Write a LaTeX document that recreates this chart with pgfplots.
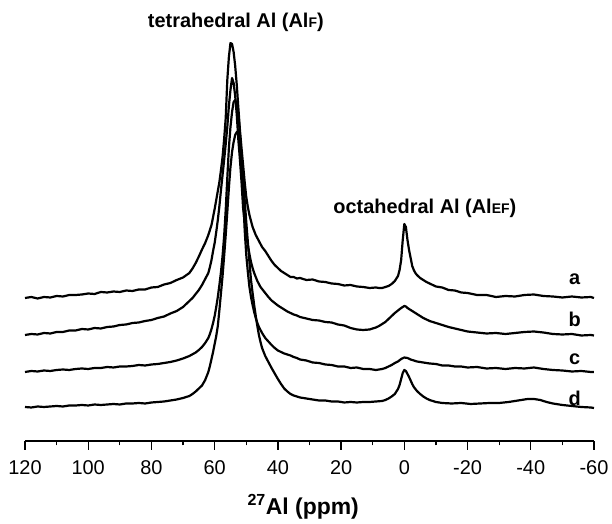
\documentclass[border=0pt]{standalone}
\usepackage{fontspec}
\setmainfont{Liberation Sans}
\usepackage{pgfplots}
\pgfplotsset{compat=1.18}
\tikzset{tr/.style={black, line width=2.2bp, line join=round}}
\begin{document}
\begin{tikzpicture}
\begin{axis}[
 scale only axis, width=569bp, height=401bp,
 xmin=-60, xmax=120, x dir=reverse, ymin=-441, ymax=-40,
 axis x line=bottom, axis y line=none,
 axis line style={-, line width=1.4bp},
 xtick={120,100,80,60,40,20,0,-20,-40,-60},
 xticklabels={120,100,80,60,40,20,0,-20,-40,-60},
 minor xtick={110,90,70,50,30,10,-10,-30,-50},
 tick align=outside, major tick length=9bp, minor tick length=4.5bp,
 every tick/.style={black, line width=1.3bp},
 xticklabel style={font=\fontsize{20}{24}\selectfont, anchor=base, yshift=-25bp},
 clip=false,
]
\path (axis cs:127.91,0) rectangle (axis cs:-65.70,-520);
% trace a
\addplot[tr] coordinates {(120,-298)(118,-297)(116,-298.5)(114,-297)(112,-297.5)(110,-296)(108,-296.5)(106,-295)(104,-295)(102,-294.5)(100,-293.5)(98,-294)(96,-292)(94,-292.5)(92,-291.5)(90,-292)(88,-290.5)(86,-291)(84,-289.5)(82,-289.5)(80,-287.5)(78,-287)(76,-284.5)(74,-283)(72,-280)(70,-277.5)(68,-273)(67,-268.5)(66,-263)(65,-256.5)(64,-249.5)(63,-243)(62,-235)(61.5,-230)(61,-225)(60.5,-217)(60,-209)(59.5,-200)(59,-191)(58.5,-182)(58,-170)(57.5,-157)(57,-139)(56.5,-118)(56,-80)(55.5,-57)(55,-43)(54.5,-44)(54,-52)(53.5,-66)(53,-85)(52.5,-108)(52,-130)(51.5,-148)(51,-165)(50.5,-182)(50,-197)(49.5,-207)(49,-215)(48.5,-221)(48,-227)(47.5,-231)(47,-235)(46.5,-238)(46,-241)(45.5,-244)(45,-247)(44,-251)(43,-256)(42,-261)(41,-265)(40,-268)(39,-271)(38,-273)(37,-275)(36,-277)(35,-277)(34,-278.5)(33,-278)(31,-280)(29,-279.5)(27,-281.5)(25,-282)(23,-283.5)(21,-284)(19,-285.5)(17,-285)(15,-286.5)(13,-287)(11,-288)(9,-287.5)(8,-288)(7,-288)(6,-287)(5,-286)(4,-284)(3,-281)(2,-276)(1.5,-270)(1,-260)(0.5,-240)(0,-224)(-0.5,-227)(-1,-240)(-1.5,-250)(-2,-258)(-2.5,-266)(-3,-270)(-3.5,-273)(-4,-275)(-5,-278)(-6,-280)(-7,-282)(-8,-283.5)(-10,-286.5)(-12,-287.5)(-14,-290)(-16,-290.5)(-18,-292.5)(-20,-293)(-23,-295)(-26,-295)(-29,-297)(-32,-296)(-35,-296.5)(-38,-295)(-41,-294.5)(-44,-296)(-47,-296.5)(-50,-297.5)(-53,-296.5)(-56,-297.5)(-59,-297)(-60,-298)};
% trace b
\addplot[tr] coordinates {(120,-335)(118,-334)(116,-334.5)(114,-333)(112,-333.5)(110,-332)(108,-332)(106,-330.5)(104,-330.5)(102,-329)(100,-329.5)(98,-328)(96,-328.5)(94,-327)(92,-326.5)(90,-325)(88,-324.5)(86,-323)(84,-322.5)(82,-321)(80,-320)(78,-318)(76,-316.5)(74,-313.5)(72,-311)(70,-307)(68,-301)(67,-298)(66,-294)(65,-290)(64,-285)(63,-279)(62,-273)(61.5,-267)(61,-260)(60.5,-251)(60,-243)(59.5,-232)(59,-220)(58.5,-206)(58,-190)(57.5,-175)(57,-160)(56.5,-144)(56,-127)(55.5,-106)(55,-90)(54.5,-78)(54,-83)(53.5,-96)(53,-115)(52.5,-140)(52,-160)(51.5,-182)(51,-208)(50.5,-222)(50,-236)(49.5,-245)(49,-254)(48.5,-262)(48,-268)(47.5,-273)(47,-277)(46.5,-281)(46,-284)(45.5,-287)(45,-289)(44,-293)(43,-297)(42,-300.5)(41,-303)(40,-305.5)(39,-307.5)(38,-309.5)(37,-311.5)(36,-313)(35,-314.5)(34,-315.5)(33,-317)(31,-318.5)(29,-320)(27,-320.5)(25,-322)(23,-322.5)(21,-324.5)(19,-325.5)(17,-328)(15,-329.5)(13,-330)(11,-329.5)(9,-327.5)(8,-326)(7,-324)(6,-322)(5,-319)(4,-316)(3,-313)(2,-310.5)(1,-308)(0.5,-307)(0,-306)(-0.5,-306.5)(-1,-308)(-2,-310)(-3,-312)(-4,-314)(-5,-316)(-6,-318)(-7,-319.5)(-8,-321)(-10,-323)(-12,-325)(-14,-327)(-16,-328.5)(-18,-330)(-20,-331.5)(-23,-332.5)(-26,-333.5)(-29,-333)(-32,-334)(-35,-333)(-38,-332)(-41,-331.5)(-44,-332.5)(-47,-334)(-50,-334.5)(-53,-334)(-56,-335.5)(-59,-335)(-60,-335.5)};
% trace c
\addplot[tr] coordinates {(120,-372)(118,-371)(116,-371.5)(114,-370.5)(112,-371)(110,-370)(108,-369.5)(106,-370)(104,-369)(102,-368.5)(100,-369)(98,-368)(96,-368)(94,-367)(92,-367.5)(90,-366.5)(88,-366.5)(86,-366)(84,-365)(82,-365.5)(80,-364.5)(78,-364)(76,-363)(74,-362)(72,-360.5)(70,-358.5)(68,-356)(66,-352.5)(65,-350)(64,-347)(63,-343)(62,-338)(61.5,-334)(61,-329)(60.5,-323)(60,-316)(59.5,-307)(59,-297)(58.5,-285)(58,-272)(57.5,-256)(57,-236)(56.5,-210)(56,-178)(55.5,-148)(55,-127)(54.5,-112)(54,-102)(53.5,-100)(53,-104)(52.5,-114)(52,-135)(51.5,-165)(51,-195)(50.5,-230)(50,-255)(49.5,-272)(49,-287)(48.5,-297)(48,-305)(47.5,-312)(47,-318)(46.5,-323)(46,-327)(45.5,-330)(45,-333)(44,-338)(43,-341.5)(42,-345)(41,-348)(40,-350.5)(39,-352)(38,-353.5)(37,-354.5)(36,-355.5)(35,-357)(34,-358)(33,-359.5)(31,-360.5)(29,-362.5)(27,-363)(25,-364.5)(23,-365)(21,-366.5)(19,-366.5)(17,-368)(15,-367.5)(13,-369)(11,-369)(9,-370)(8,-369.5)(7,-369)(6,-368)(5,-366.5)(4,-365)(3,-363)(2,-361.5)(1,-359)(0,-357.5)(-1,-358)(-2,-359.5)(-3,-360.5)(-4,-361.5)(-5,-362)(-6,-362.5)(-8,-363.5)(-10,-364)(-12,-365.5)(-14,-365.5)(-16,-366.5)(-18,-366.5)(-20,-367.5)(-23,-367)(-26,-368.5)(-29,-368)(-32,-369)(-35,-368)(-38,-368.5)(-41,-367.5)(-44,-369)(-47,-370)(-50,-370.5)(-53,-371.5)(-56,-371)(-59,-372)(-60,-372)};
% trace d
\addplot[tr] coordinates {(120,-407)(118,-407.5)(116,-406.5)(114,-407)(112,-406.5)(110,-406)(108,-406.5)(106,-405.5)(104,-405.5)(102,-405)(100,-405.5)(98,-404.5)(96,-405)(94,-404.5)(92,-404)(90,-404.5)(88,-403.5)(86,-403.5)(84,-403)(82,-403.5)(80,-402.5)(78,-402)(76,-401.5)(74,-400.5)(72,-399.5)(70,-398)(68,-396)(67,-394)(66,-391.5)(65,-388.5)(64,-385.5)(63,-380)(62,-372)(61.5,-366)(61,-359)(60.5,-352)(60,-344)(59.5,-336)(59,-326)(58.5,-310)(58,-293)(57.5,-276)(57,-256)(56.5,-235)(56,-212)(55.5,-188)(55,-167)(54.5,-152)(54,-142)(53.5,-135)(53,-132)(52.5,-133)(52,-142)(51.5,-157)(51,-175)(50.5,-200)(50,-222)(49.5,-242)(49,-262)(48.5,-280)(48,-293)(47.5,-305)(47,-316)(46.5,-326)(46,-335)(45.5,-342)(45,-348)(44,-356)(43,-362)(42,-368)(41,-373.5)(40,-379)(39,-384)(38,-388.5)(37,-391.5)(36,-394)(35,-395.5)(34,-396.5)(33,-397.5)(31,-398.5)(29,-399.5)(27,-400.5)(25,-400.5)(23,-401.5)(21,-401.5)(19,-402.5)(17,-402)(15,-402.5)(13,-402)(11,-402)(9,-401.5)(7,-401)(6,-400)(5,-398.5)(4,-396.5)(3,-394)(2,-389)(1.5,-385)(1,-379)(0.5,-373)(0,-370)(-0.5,-371)(-1,-374)(-1.5,-377)(-2,-380.5)(-2.5,-384)(-3,-387)(-4,-391)(-5,-394)(-6,-396.5)(-7,-398.5)(-8,-400)(-10,-402)(-12,-403)(-15,-403.5)(-18,-403)(-21,-404)(-24,-403.5)(-27,-403)(-30,-403)(-33,-402)(-35,-401)(-37,-400)(-39,-399)(-41,-399)(-43,-400)(-45,-402)(-47,-403.5)(-50,-405)(-53,-406)(-56,-407)(-59,-407.5)(-60,-408)};
% labels
\node[font=\fontsize{20}{24}\selectfont\bfseries, anchor=center] at (axis cs:53.3,-22) {tetrahedral Al (Al{\fontsize{14}{14}\selectfont F})};
\node[font=\fontsize{20}{24}\selectfont\bfseries, anchor=center] at (axis cs:-6.5,-208) {octahedral Al (Al{\fontsize{14}{14}\selectfont EF})};
\node[font=\fontsize{20}{24}\selectfont\bfseries, anchor=base] at (axis cs:-53.9,-285) {a};
\node[font=\fontsize{20}{24}\selectfont\bfseries, anchor=base] at (axis cs:-53.9,-326.5) {b};
\node[font=\fontsize{20}{24}\selectfont\bfseries, anchor=base] at (axis cs:-53.9,-365) {c};
\node[font=\fontsize{20}{24}\selectfont\bfseries, anchor=base] at (axis cs:-53.9,-406) {d};
\node[font=\fontsize{23}{26}\selectfont\bfseries, anchor=base] at (axis cs:32.0,-515) {\textsuperscript{27}Al (ppm)};
\end{axis}
\end{tikzpicture}
\end{document}
